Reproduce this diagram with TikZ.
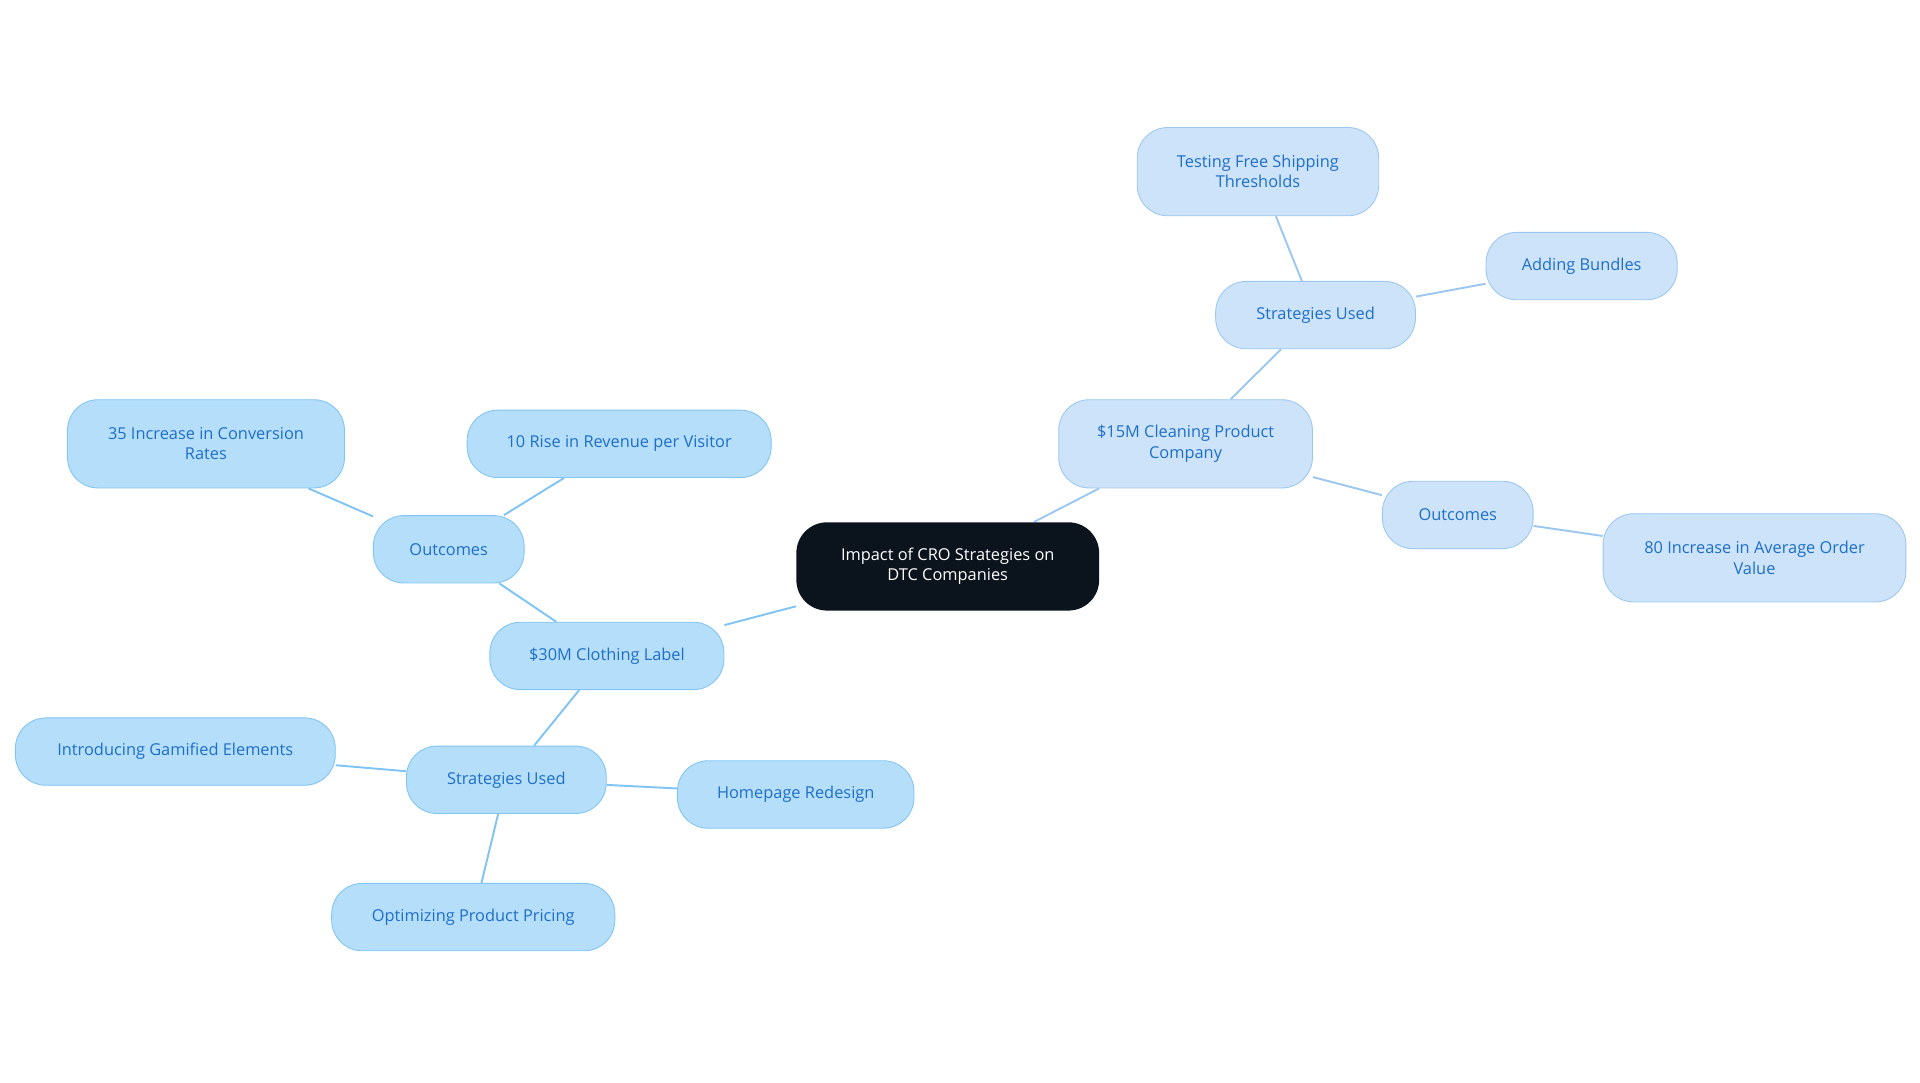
\documentclass[tikz,border=0pt]{standalone}
\usepackage{fontspec}
\setmainfont{Open Sans}
\usepackage{tikz}
\usetikzlibrary{positioning,backgrounds}

\definecolor{rootfill}{HTML}{0B131C}
\definecolor{leftfill}{HTML}{B5DEFB}
\definecolor{leftline}{HTML}{80C4F4}
\definecolor{rightfill}{HTML}{CCE3FA}
\definecolor{rightline}{HTML}{9CC7F0}
\definecolor{labeltext}{HTML}{1E6FC8}

\tikzset{
  base/.style={rounded corners=0.5cm, align=center, font=\fontsize{7.6}{9.4}\selectfont, inner sep=2pt},
  rootbox/.style={base, fill=rootfill, text=white, minimum width=4.94cm, minimum height=1.44cm},
  leftbox/.style={base, draw=leftline, fill=leftfill, text=labeltext, minimum height=1.1cm},
  rightbox/.style={base, draw=rightline, fill=rightfill, text=labeltext, minimum height=1.1cm},
  link/.style={draw=leftline, line width=0.9pt},
  rlink/.style={draw=rightline, line width=0.9pt}
}

\begin{document}
\begin{tikzpicture}[x=0.02cm,y=-0.02cm]
\useasboundingbox (0,0) rectangle (1566,883);

\node[rootbox] (root) at (773,462) {Impact of CRO Strategies on\\DTC Companies};

% clothing label branch
\node[leftbox, minimum width=3.82cm] (cloth) at (495,535) {\$30M Clothing Label};
\node[leftbox, minimum width=2.46cm] (cout) at (366,448) {Outcomes};
\node[leftbox, minimum width=4.52cm, minimum height=1.44cm] (conv) at (168,362) {35 Increase in Conversion\\Rates};
\node[leftbox, minimum width=4.96cm] (rev) at (505,362) {10 Rise in Revenue per Visitor};
\node[leftbox, minimum width=3.26cm] (cstrat) at (413,636) {Strategies Used};
\node[leftbox, minimum width=5.22cm] (gami) at (143,613) {Introducing Gamified Elements};
\node[leftbox, minimum width=3.86cm] (home) at (649,648) {Homepage Redesign};
\node[leftbox, minimum width=4.62cm] (price) at (386,748) {Optimizing Product Pricing};

% cleaning product branch
\node[rightbox, minimum width=4.14cm, minimum height=1.44cm] (clean) at (967,362) {\$15M Cleaning Product\\Company};
\node[rightbox, minimum width=3.26cm] (bstrat) at (1073,257) {Strategies Used};
\node[rightbox, minimum width=3.94cm, minimum height=1.44cm] (ship) at (1026,140) {Testing Free Shipping\\Thresholds};
\node[rightbox, minimum width=3.12cm] (bund) at (1290,217) {Adding Bundles};
\node[rightbox, minimum width=2.46cm] (bout) at (1189,420) {Outcomes};
\node[rightbox, minimum width=4.94cm, minimum height=1.44cm] (aov) at (1431,455) {80 Increase in Average Order\\Value};

\begin{scope}[on background layer]
\path[link] (root) -- (cloth);
\path[link] (cloth) -- (cout);
\path[link] (cout) -- (conv);
\path[link] (cout) -- (rev);
\path[link] (cloth) -- (cstrat);
\path[link] (cstrat) -- (gami);
\path[link] (cstrat) -- (home);
\path[link] (cstrat) -- (price);

\path[rlink] (root) -- (clean);
\path[rlink] (clean) -- (bstrat);
\path[rlink] (bstrat) -- (ship);
\path[rlink] (bstrat) -- (bund);
\path[rlink] (clean) -- (bout);
\path[rlink] (bout) -- (aov);
\end{scope}

\end{tikzpicture}
\end{document}
